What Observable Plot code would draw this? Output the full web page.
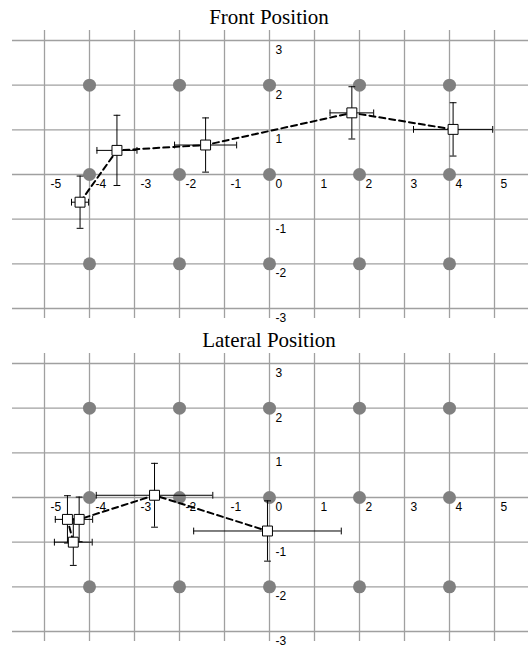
<!DOCTYPE html>
<html>
<head>
<meta charset="utf-8">
<script src="https://cdn.jsdelivr.net/npm/d3@7"></script>
<script src="https://cdn.jsdelivr.net/npm/@observablehq/plot@0.6"></script>
<style>
  body { margin: 0; background: #fff; }
  .title {
    font-family: "Liberation Serif", "Times New Roman", Times, serif;
    font-size: 21px; height: 28px; line-height: 28px;
    text-align: center; padding-left: 10px; box-sizing: border-box;
    width: 528px; position: relative; top: 3px; color: #000;
  }
  svg { display: block; }
</style>
</head>
<body>
<div id="chart"></div>
<script>
// Grid and target positions
const gridX = [-5, -4, -3, -2, -1, 0, 1, 2, 3, 4, 5];
const gridY = [-3, -2, -1, 0, 1, 2, 3];
const targetX = [-4, -2, 0, 2, 4];
const targetY = [-2, 0, 2];
const xTickLabels = [-5, -4, -3, -2, -1, 0, 1, 2, 3, 4, 5];
const yTickLabels = [3, 2, 1, -1, -2, -3];

// Front Position series
const frontTitle = "Front Position";
const frontX    = [-4.21, -3.39, -1.42, 1.83, 4.08];
const frontY    = [-0.62, 0.54, 0.66, 1.38, 1.01];
const frontXErr = [0.19, 0.445, 0.69, 0.485, 0.88];
const frontYErr = [0.585, 0.786, 0.607, 0.585, 0.597];

// Lateral Position series
const lateralTitle = "Lateral Position";
const lateralX    = [-4.36, -4.49, -4.23, -2.555, -0.045];
const lateralY    = [-1.0, -0.49, -0.49, 0.05, -0.75];
const lateralXErr = [0.42, 0.27, 0.30, 1.295, 1.64];
const lateralYErr = [0.52, 0.53, 0.50, 0.715, 0.675];

const hCap = {draw(ctx, size) { const r = Math.sqrt(size / Math.PI); ctx.moveTo(-r, 0); ctx.lineTo(r, 0); }};
const vCap = {draw(ctx, size) { const r = Math.sqrt(size / Math.PI); ctx.moveTo(0, -r); ctx.lineTo(0, r); }};

function panel(title, X, Y, XE, YE, svgHeight, marginBottom) {
  const rows = X.map((x, i) => ({x, y: Y[i], xe: XE[i], ye: YE[i]}));
  const targets = targetY.flatMap(y => targetX.map(x => ({x, y})));
  const labelFont = {fontSize: 12, fontFamily: "'Liberation Sans', Arial, Helvetica, sans-serif", fill: "#000"};
  const wrap = document.createElement("div");
  const t = document.createElement("div");
  t.className = "title";
  t.textContent = title;
  wrap.appendChild(t);
  const svg = Plot.plot({
    width: 528,
    height: svgHeight,
    marginLeft: 12,
    marginRight: 0,
    marginTop: 2,
    marginBottom: marginBottom,
    x: {domain: [-257 / 45, 259 / 45], axis: null},
    y: {domain: [-3.224, 3.224], axis: null},
    style: {background: "#fff", overflow: "visible", fontFamily: "'Liberation Sans', Arial, sans-serif"},
    marks: [
      Plot.ruleX(gridX, {stroke: "#a0a0a0", strokeWidth: 1.3}),
      Plot.ruleY(gridY, {stroke: "#a0a0a0", strokeWidth: 1.3}),
      Plot.text(xTickLabels, {x: d => d, y: 0, text: d => String(d), dx: 6, dy: 13.5, textAnchor: "start", lineAnchor: "bottom", ...labelFont}),
      Plot.text(yTickLabels, {x: 0, y: d => d, text: d => String(d), dx: 6, dy: 13.5, textAnchor: "start", lineAnchor: "bottom", ...labelFont}),
      Plot.dot(targets, {x: "x", y: "y", r: 6.5, fill: "#808080", stroke: "none"}),
      Plot.ruleX(rows, {x: "x", y1: d => d.y - d.ye, y2: d => d.y + d.ye, stroke: "#000", strokeWidth: 1}),
      Plot.ruleY(rows, {y: "y", x1: d => d.x - d.xe, x2: d => d.x + d.xe, stroke: "#000", strokeWidth: 1}),
      Plot.dot(rows, {x: "x", y: d => d.y + d.ye, symbol: hCap, r: 3.4, stroke: "#000", fill: "none", strokeWidth: 1}),
      Plot.dot(rows, {x: "x", y: d => d.y - d.ye, symbol: hCap, r: 3.4, stroke: "#000", fill: "none", strokeWidth: 1}),
      Plot.dot(rows, {x: d => d.x - d.xe, y: "y", symbol: vCap, r: 3.4, stroke: "#000", fill: "none", strokeWidth: 1}),
      Plot.dot(rows, {x: d => d.x + d.xe, y: "y", symbol: vCap, r: 3.4, stroke: "#000", fill: "none", strokeWidth: 1}),
      Plot.line(rows, {x: "x", y: "y", stroke: "#000", strokeWidth: 2, strokeDasharray: "6,4"}),
      Plot.dot(rows, {x: "x", y: "y", symbol: "square", r: 5.6, fill: "#fff", stroke: "#000", strokeWidth: 1})
    ]
  });
  wrap.appendChild(svg);
  return wrap;
}

const chart = document.getElementById("chart");
chart.appendChild(panel(frontTitle, frontX, frontY, frontXErr, frontYErr, 295, 5));
chart.appendChild(panel(lateralTitle, lateralX, lateralY, lateralXErr, lateralYErr, 297, 7));
</script>
</body>
</html>
